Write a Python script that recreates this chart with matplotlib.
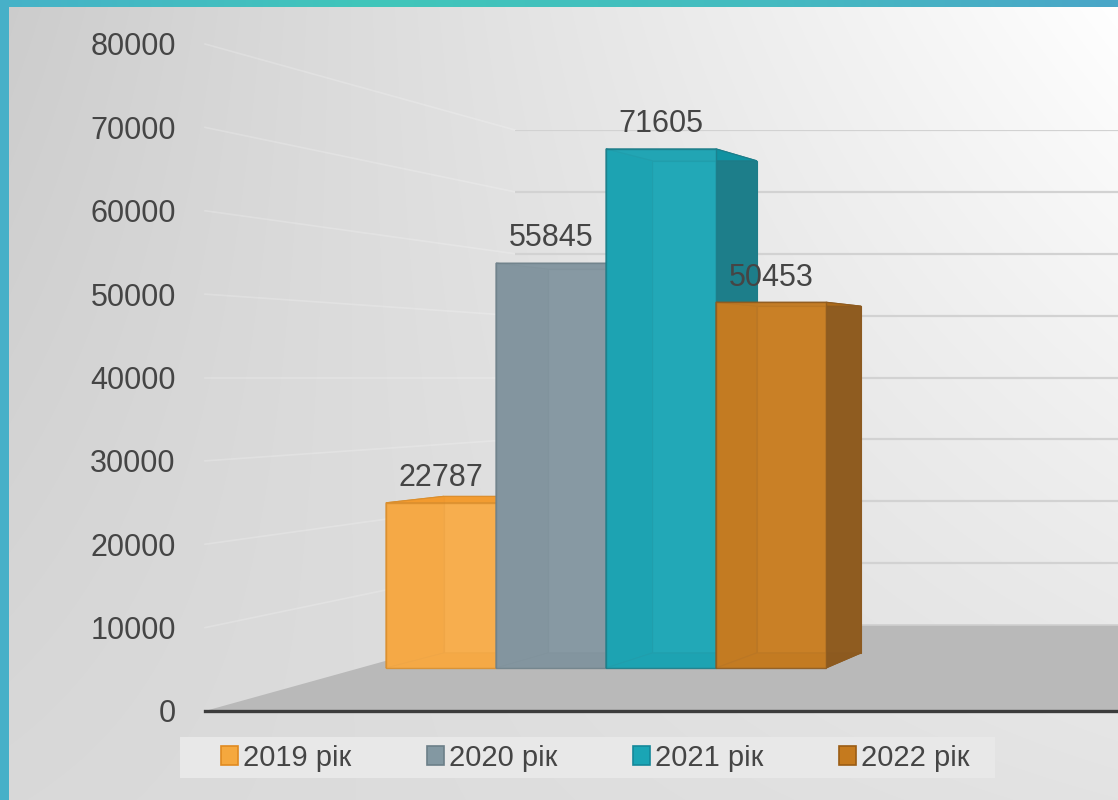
import numpy as np
import matplotlib
matplotlib.use('Agg')
import matplotlib.pyplot as plt
from matplotlib.patches import Polygon, Rectangle, Patch
from matplotlib.colors import LinearSegmentedColormap

# ---------------- data ----------------
years = ['2019 рік', '2020 рік', '2021 рік', '2022 рік']
values = [22787, 55845, 71605, 50453]
yticks = [0, 10000, 20000, 30000, 40000, 50000, 60000, 70000, 80000]

front_colors = ['#F7AE4E', '#8799A3', '#22A8B7', '#C98026']
inner_colors = ['#F29A2E', '#788B94', '#0E94A4', '#AE6A18']
side_colors = ['#D98E2E', '#6F818A', '#1D7C88', '#8C5A20']
legend_colors = ['#F5A83E', '#8398A2', '#1AA5B5', '#C57A1E']
legend_edges = ['#E08A20', '#6C7F88', '#15889A', '#9A5C14']

plt.rcParams['font.family'] = ['Liberation Sans', 'DejaVu Sans']

W, H = 1118, 800
fig = plt.figure(figsize=(W / 100, H / 100), dpi=100)


def box(x0, ytop, x1, ybot):
    return [x0 / W, 1 - ybot / H, (x1 - x0) / W, (ybot - ytop) / H]


# ---------------- background ----------------
bg = fig.add_axes([0, 0, 1, 1], zorder=0)
bg.set_xlim(0, W)
bg.set_ylim(H, 0)
bg.axis('off')
fx = np.linspace(0, 1, W)[None, :]
fy = np.linspace(0, 1, H)[:, None]
g = 0.80 + 0.20 * fx * (1 - 0.55 * fy) + 0.05 * fy * (1 - fx)
g = np.clip(g, 0, 1)
rgb = np.dstack([g, g, g])
bg.imshow(rgb, extent=(0, W, H, 0), aspect='auto', interpolation='nearest', zorder=0)
# teal frame
top_cmap = LinearSegmentedColormap.from_list('t', ['#46b2c8', '#40c6ba', '#44bcc0', '#4aa6c8'])
bg.imshow(np.linspace(0, 1, 200)[None, :], cmap=top_cmap, extent=(0, W, 7, 0),
          aspect='auto', zorder=1)
bg.add_patch(Rectangle((0, 0), 9, H, color='#47b0c8', zorder=2, lw=0))

# ---------------- axes: front (ticks), back wall, bars ----------------
axf = fig.add_axes(box(205, 44, 1118, 711), zorder=1)
axf.set_xlim(0, 1)
axf.set_ylim(0, 80000)
axf.patch.set_visible(False)
axf.set_yticks(yticks)
axf.set_yticklabels([str(t) for t in yticks])
axf.set_xticks([])
axf.tick_params(axis='y', length=0, pad=21, labelsize=22, labelcolor='#454545')
for s in ['top', 'right', 'left']:
    axf.spines[s].set_visible(False)
axf.spines['bottom'].set_color('#3c3c3c')
axf.spines['bottom'].set_linewidth(2.4)
axf.spines['bottom'].set_zorder(10)

axw = fig.add_axes(box(515, 130, 1118, 625), zorder=1)
axw.set_xlim(0, 1)
axw.set_ylim(0, 80000)
axw.axis('off')
axw.hlines(yticks[1:], 0, 1, color='#d2d2d2', lw=1.6, zorder=1)

inv = bg.transData.inverted()


def to_bg(ax, pt):
    return inv.transform(ax.transData.transform(pt))


# left wall diagonal gridlines
for t in yticks[1:]:
    p0 = to_bg(axf, (0, t))
    p1 = to_bg(axw, (0, t))
    bg.plot([p0[0], p1[0]], [p0[1], p1[1]], color='#ffffff', alpha=0.2, lw=1.2, zorder=3)

# floor
floor = [to_bg(axf, (0, 0)), to_bg(axf, (1, 0)), to_bg(axw, (1, 0)), to_bg(axw, (0, 0))]
bg.add_patch(Polygon(floor, closed=True, facecolor='#b9b9b9', edgecolor='none', zorder=3))
fb = to_bg(axw, (0, 0))
bg.plot([fb[0], W], [fb[1], fb[1]], color='#cfcfcf', lw=1.2, zorder=3.5)

# legend background band
bg.add_patch(Rectangle((180, 737), 815, 41, facecolor='#e8e8e8', edgecolor='none', zorder=3))

axb = fig.add_axes(box(386, 88, 1118, 668), zorder=2)
axb.set_xlim(-0.5, -0.5 + 732 / 110)
axb.set_ylim(0, 80000)
axb.axis('off')

K = 0.948
YH = 40000.0
XV = -0.5 + (1500 - 386) / 110


def P(x, y):
    return (XV + (x - XV) * K, YH + (y - YH) * K)


for i, v in enumerate(values):
    x0, x1 = i - 0.5, i + 0.5
    z = 2 + i * 0.1
    fc, ic, sc = front_colors[i], inner_colors[i], side_colors[i]
    axb.add_patch(Polygon([P(x0, 0), P(x1, 0), P(x1, v), P(x0, v)], closed=True,
                          facecolor=fc, edgecolor=sc, lw=0.8, zorder=z, clip_on=False))
    axb.add_patch(Polygon([(x0, 0), (x0, v), P(x0, v), P(x0, 0)], closed=True,
                          facecolor=ic, edgecolor=sc, lw=0.8, zorder=z + 0.01, clip_on=False))
    axb.add_patch(Polygon([(x0, 0), (x1, 0), P(x1, 0), P(x0, 0)], closed=True,
                          facecolor=ic, edgecolor=sc, lw=0.8, zorder=z + 0.01, clip_on=False))
    axb.add_patch(Polygon([(x1, 0), (x1, v), P(x1, v), P(x1, 0)], closed=True,
                          facecolor=sc, edgecolor=sc, lw=0.8, alpha=0.95, zorder=z + 0.02,
                          clip_on=False))
    axb.add_patch(Polygon([(x0, v), (x1, v), P(x1, v), P(x0, v)], closed=True,
                          facecolor=ic, edgecolor=sc, lw=0.8, alpha=0.9, zorder=z + 0.03,
                          clip_on=False))

for i, v in enumerate(values):
    axb.bar(i, v, width=1.0, color=front_colors[i], alpha=0.78,
            edgecolor=side_colors[i], linewidth=1.0, zorder=2 + i * 0.1 + 0.05, clip_on=False)

for i, v in enumerate(values):
    axb.annotate(str(v), (i, v), xytext=(0, 12), textcoords='offset points',
                 ha='center', va='baseline', fontsize=22, color='#454545', zorder=20,
                 annotation_clip=False)

handles = [Patch(facecolor=legend_colors[i], edgecolor=legend_edges[i], lw=1.2) for i in range(4)]
leg = fig.legend(handles, years, loc='center', bbox_to_anchor=(595 / W, 1 - 758 / H),
                 ncol=4, frameon=False, handlelength=0.6, handleheight=0.6,
                 handletextpad=0.15, columnspacing=2.6, fontsize=21)
for t in leg.get_texts():
    t.set_color('#454545')

fig.savefig('out.png', dpi=100)
